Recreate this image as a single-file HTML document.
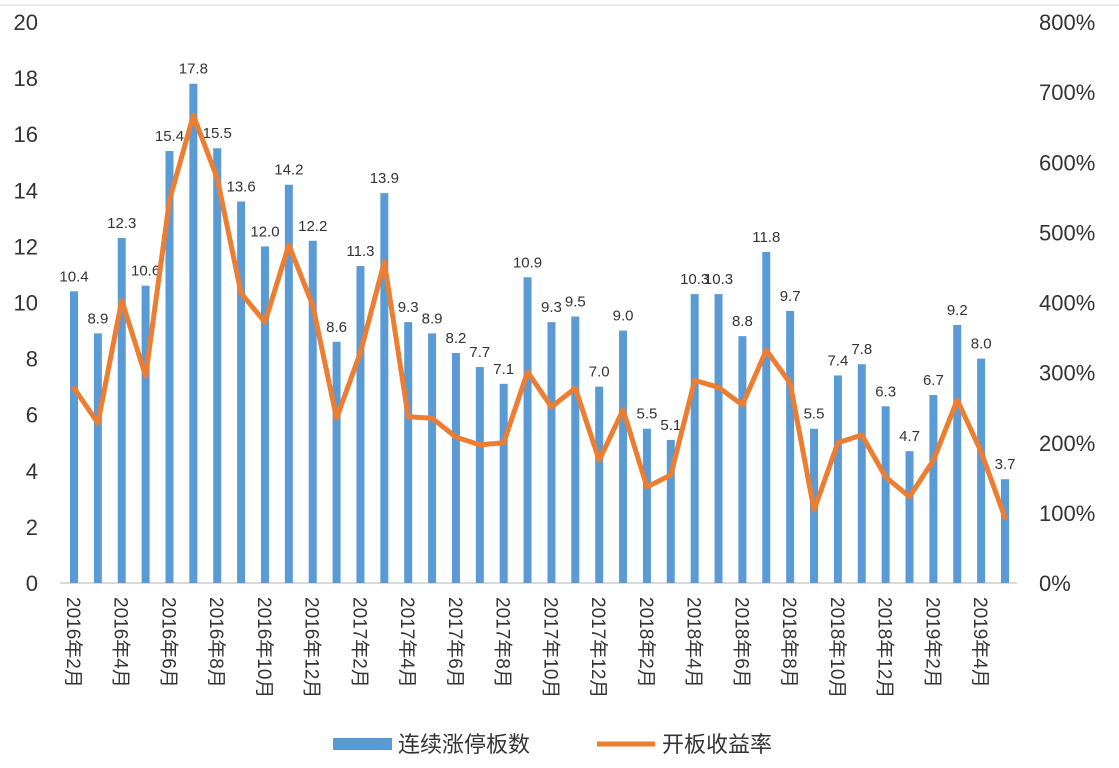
<!DOCTYPE html>
<html><head><meta charset="utf-8"><style>
body{margin:0;background:#fff}
svg{display:block;font-family:"Liberation Sans","Noto Sans CJK SC",sans-serif}
</style></head><body>
<svg id="c" width="1119" height="768">
<line x1="0" y1="5" x2="1119" y2="5" stroke="#d9d9d9"/>
<g id="g"></g>
<g>
<rect x="333" y="738" width="59" height="12" fill="#5b9bd5"/>
<text x="398" y="752" font-size="22" fill="#333">连续涨停板数</text>
<line x1="597" y1="744" x2="655" y2="744" stroke="#ed7d31" stroke-width="5"/>
<text x="662" y="752" font-size="22" fill="#333">开板收益率</text>
</g>
</svg>
<script>
const counts=[10.4,8.9,12.3,10.6,15.4,17.8,15.5,13.6,12.0,14.2,12.2,8.6,11.3,13.9,9.3,8.9,8.2,7.7,7.1,10.9,9.3,9.5,7.0,9.0,5.5,5.1,10.3,10.3,8.8,11.8,9.7,5.5,7.4,7.8,6.3,4.7,6.7,9.2,8.0,3.7];
const returns=[278,228,403,295,546,667,577,413,372,482,396,235,329,458,237,235,208,197,200,301,251,278,175,247,137,154,289,279,254,332,285,104,200,211,151,123,175,261,187,93];
const leftTicks=[0,2,4,6,8,10,12,14,16,18,20];
const rightTicks=["0%","100%","200%","300%","400%","500%","600%","700%","800%"];
const startYear=2016,startMonth=2;
const NS="http://www.w3.org/2000/svg";
const g=document.getElementById('g');
const y0=583,yTop=22;
const yL=v=>y0-(v/20)*(y0-yTop);
const yR=v=>y0-(v/800)*(y0-yTop);
const xB=i=>74+i*(1005-74)/(counts.length-1);
function mk(t,a){const e=document.createElementNS(NS,t);for(const k in a)e.setAttribute(k,a[k]);g.appendChild(e);return e;}
let e;
leftTicks.forEach(v=>{e=mk('text',{x:38,y:yL(v)+8,'font-size':22,fill:'#333','text-anchor':'end'});e.textContent=v;

});
rightTicks.forEach((t,i)=>{e=mk('text',{x:1039,y:yR(i*100)+8,'font-size':22,fill:'#333'});e.textContent=t;

});
e=mk('line',{x1:60,y1:y0,x2:1017,y2:y0,stroke:'#d9d9d9','stroke-width':2});


counts.forEach((v,i)=>{
 e=mk('rect',{x:xB(i)-4,y:yL(v),width:8,height:y0-yL(v),fill:'#5b9bd5'});
 
 
 e=mk('text',{x:xB(i),y:yL(v)-10,'font-size':15,fill:'#333','text-anchor':'middle'});e.textContent=v.toFixed(1);
 
 
});
e=mk('polyline',{points:returns.map((v,i)=>xB(i)+','+yR(v)).join(' '),fill:'none',stroke:'#ed7d31','stroke-width':5,'stroke-linejoin':'round','stroke-linecap':'round'});


for(let i=0;i<counts.length;i+=2){
 const m=startMonth+i-1,yr=startYear+Math.floor(m/12),mo=m%12+1;
 e=mk('text',{x:0,y:0,'font-size':19,fill:'#333',transform:`translate(${xB(i)-7},597) rotate(90)`});
 e.textContent=yr+'年'+mo+'月';
 
 
}
</script>
</body></html>
